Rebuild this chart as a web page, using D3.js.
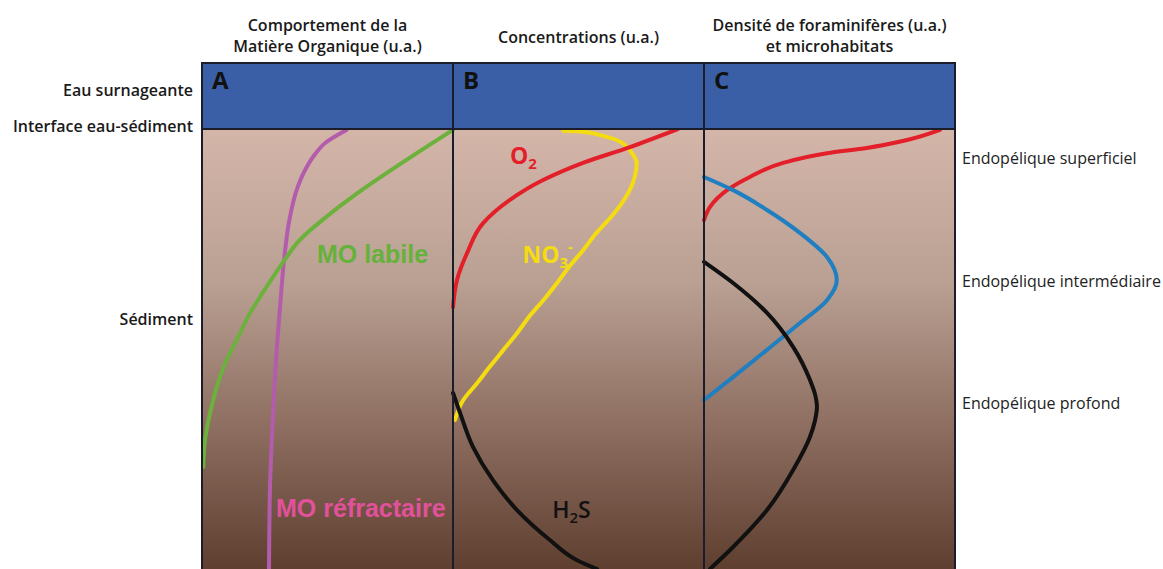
<!DOCTYPE html>
<html>
<head>
<meta charset="utf-8">
<script src="https://cdn.jsdelivr.net/npm/d3@7"></script>
<style>
  body { margin: 0; background: #fff; }
  svg { display: block; font-family: "Open Sans", sans-serif; }
</style>
</head>
<body>
<svg id="chart" width="1163" height="569"></svg>
<script>
// each series: [value (0-100, u.a.), depth (0 = interface, 100 = bottom)]
const moLabile = [[100, 0.2], [78.9, 8], [62.9, 14.2], [49.7, 19.9], [39, 25.2], [31.8, 30.7], [25.8, 35.8], [19.1, 41.9], [13.8, 48], [9.2, 53.3], [5.9, 58.6], [3.2, 64.6], [1.2, 70.7], [0.5, 76.8]];
const moRefractaire = [[57.6, 0.2], [49.7, 2.9], [44.3, 6.3], [40.4, 10.1], [37.7, 13.9], [34.8, 20.7], [32.7, 29.8], [31.1, 40.4], [29.5, 52.5], [28.2, 66.1], [27.1, 81.1], [26.7, 100]];
const o2 = [[89.6, 0], [70.5, 4.1], [51.8, 7.7], [35.9, 11.6], [22.7, 16.1], [12, 21.4], [5.6, 28.2], [1.6, 34.3], [0, 40.5]];
const no3 = [[44, 0.4], [51.9, 0.6], [58.6, 1.4], [65.2, 2.5], [69.2, 4], [71.8, 5.9], [73.2, 7.7], [72.5, 10.7], [70.5, 13.8], [67.2, 16.9], [62.5, 20.3], [57.3, 23.5], [51.9, 27.5], [46.6, 31.1], [41.3, 35.1], [36, 38.9], [30.7, 42.4], [25.5, 46.4], [20.1, 50.2], [14.7, 54], [9.4, 57.9], [4.1, 61.6], [0.8, 66.1]];
const h2s = [[0, 60], [2.8, 64.5], [8, 72.3], [15.9, 79.8], [25.5, 86.6], [38.6, 93.4], [49.4, 98], [57.4, 100]];
const foraSuperficiel = [[94, 0.2], [80.9, 2.5], [64.9, 4.3], [49, 5.5], [31.5, 7.7], [18.3, 10.9], [9.2, 13.9], [2.4, 17.7], [0, 20.7]];
const foraIntermediaire = [[0, 10.9], [11.6, 13.9], [25.1, 18.4], [38.2, 23.6], [49, 29.1], [52.9, 34.3], [49, 38.9], [38.2, 44.1], [25.1, 50.2], [11.6, 56.4], [0, 61.6]];
const foraProfond = [[0, 30.2], [11.6, 35], [25.1, 41.8], [35.5, 49.5], [42.2, 57], [44.2, 60.2], [45, 63.2], [44.2, 66.3], [42.2, 70], [35.5, 77.5], [25.1, 86.6], [11.6, 95], [2.4, 100]];

const panelLetters = ["A", "B", "C"];
const panelTitles = [
  ["Comportement de la", "Matière Organique (u.a.)"],
  ["Concentrations (u.a.)"],
  ["Densité de foraminifères (u.a.)", "et microhabitats"]
];
const zoneLabels = ["Eau surnageante", "Interface eau-sédiment", "Sédiment"];
const zoneDepths = [-8.8, -0.6, 43.2];
const habitatLabels = ["Endopélique superficiel", "Endopélique intermédiaire", "Endopélique profond"];
const habitatDepths = [6.5, 34.5, 62.3];

const svg = d3.select("#chart");
const left = 202, panelW = 251, waterTop = 63, iface = 129, bottom = 569;

const y = d3.scaleLinear().domain([0, 100]).range([iface, bottom]);
const xs = [0, 1, 2].map((i) =>
  d3.scaleLinear().domain([0, 100]).range([left + i * panelW, left + (i + 1) * panelW])
);

const defs = svg.append("defs");
const grad = defs.append("linearGradient")
  .attr("id", "sed").attr("x1", 0).attr("y1", 0).attr("x2", 0).attr("y2", 1);
grad.append("stop").attr("offset", "0%").attr("stop-color", "#d4b6a9");
grad.append("stop").attr("offset", "35%").attr("stop-color", "#b9a093");
grad.append("stop").attr("offset", "70%").attr("stop-color", "#8a6a5c");
grad.append("stop").attr("offset", "100%").attr("stop-color", "#5e3e2f");

defs.append("clipPath").attr("id", "clip")
  .append("rect").attr("x", left).attr("y", iface)
  .attr("width", panelW * 3).attr("height", bottom - iface + 2);

// water + sediment
svg.append("rect").attr("x", left).attr("y", waterTop)
  .attr("width", panelW * 3).attr("height", iface - waterTop).attr("fill", "#3b5fa6");
svg.append("rect").attr("x", left).attr("y", iface)
  .attr("width", panelW * 3).attr("height", bottom - iface + 2).attr("fill", "url(#sed)");

const line = (x) => d3.line()
  .x((d) => x(d[0]))
  .y((d) => y(d[1]))
  .curve(d3.curveMonotoneY);

const series = [
  { data: moRefractaire, panel: 0, color: "#b45cac" },
  { data: moLabile, panel: 0, color: "#6bb13c" },
  { data: no3, panel: 1, color: "#f5dc10" },
  { data: o2, panel: 1, color: "#e3202a" },
  { data: h2s, panel: 1, color: "#111" },
  { data: foraSuperficiel, panel: 2, color: "#e3202a" },
  { data: foraIntermediaire, panel: 2, color: "#1f7fc0" },
  { data: foraProfond, panel: 2, color: "#111" }
];

const curves = svg.append("g").attr("clip-path", "url(#clip)");
curves.selectAll("path")
  .data(series)
  .join("path")
  .attr("fill", "none")
  .attr("stroke", (d) => d.color)
  .attr("stroke-width", 4)
  .attr("stroke-linecap", "round")
  .attr("stroke-linejoin", "round")
  .attr("d", (d) => line(xs[d.panel])(d.data));

// frame
const frame = svg.append("g").attr("stroke", "#1b1d2b").attr("stroke-width", 2).attr("fill", "none");
frame.append("rect").attr("x", left).attr("y", waterTop)
  .attr("width", panelW * 3).attr("height", bottom - waterTop + 10);
frame.append("line").attr("x1", left).attr("x2", left + panelW * 3)
  .attr("y1", iface).attr("y2", iface);
[1, 2].forEach((i) => {
  frame.append("line")
    .attr("x1", left + i * panelW).attr("x2", left + i * panelW)
    .attr("y1", waterTop).attr("y2", bottom + 2);
});

// panel letters
svg.selectAll("text.letter")
  .data(panelLetters)
  .join("text")
  .attr("class", "letter")
  .attr("x", (d, i) => left + i * panelW + 10)
  .attr("y", 89)
  .attr("font-size", 24)
  .attr("font-weight", 700)
  .attr("fill", "#111")
  .text((d) => d);

// titles
panelTitles.forEach((lines, i) => {
  const t = svg.append("text")
    .attr("x", left + i * panelW + panelW / 2)
    .attr("text-anchor", "middle")
    .attr("font-size", 16)
    .attr("font-weight", 600)
    .attr("fill", "#1a1a1a");
  lines.forEach((s, j) => {
    t.append("tspan")
      .attr("x", left + i * panelW + panelW / 2)
      .attr("y", lines.length === 1 ? 43 : 31 + j * 21)
      .text(s);
  });
});

// left zone labels
svg.selectAll("text.zone")
  .data(zoneLabels)
  .join("text")
  .attr("class", "zone")
  .attr("x", 193)
  .attr("y", (d, i) => y(zoneDepths[i]) + 6)
  .attr("text-anchor", "end")
  .attr("font-size", 16)
  .attr("font-weight", 600)
  .attr("fill", "#1a1a1a")
  .text((d) => d);

// right microhabitat labels
svg.selectAll("text.habitat")
  .data(habitatLabels)
  .join("text")
  .attr("class", "habitat")
  .attr("x", 962)
  .attr("y", (d, i) => y(habitatDepths[i]) + 6)
  .attr("font-size", 16)
  .attr("fill", "#222")
  .text((d) => d);

// curve labels
const labelA = svg.append("g").attr("font-weight", 700).attr("font-family", "Liberation Sans, Arial, sans-serif");
labelA.append("text").attr("x", xs[0](45.8)).attr("y", y(30.5)).attr("font-size", 25)
  .attr("fill", "#64b23a").text("MO labile");
labelA.append("text").attr("x", xs[0](29.5)).attr("y", y(88.2)).attr("font-size", 25)
  .attr("fill", "#e2519b").text("MO réfractaire");

const chem = svg.append("g").attr("font-weight", 700).attr("font-size", 23);
const o2t = chem.append("text").attr("x", xs[1](22.7)).attr("y", y(7.9)).attr("fill", "#e3202a");
o2t.append("tspan").text("O");
o2t.append("tspan").attr("font-size", 15).attr("dy", 5).text("2");
const no3t = chem.append("text").attr("x", xs[1](27.7)).attr("y", y(30.5)).attr("fill", "#f5dc10");
no3t.append("tspan").text("NO");
no3t.append("tspan").attr("font-size", 15).attr("dy", 5).text("3");
no3t.append("tspan").attr("font-size", 15).attr("dy", -16).text("-");
const h2st = chem.append("text").attr("x", xs[1](39.5)).attr("y", y(88.5)).attr("fill", "#111")
  .attr("font-weight", 600);
h2st.append("tspan").text("H");
h2st.append("tspan").attr("font-size", 15).attr("dy", 5).text("2");
h2st.append("tspan").attr("dy", -5).text("S");
</script>
</body>
</html>
